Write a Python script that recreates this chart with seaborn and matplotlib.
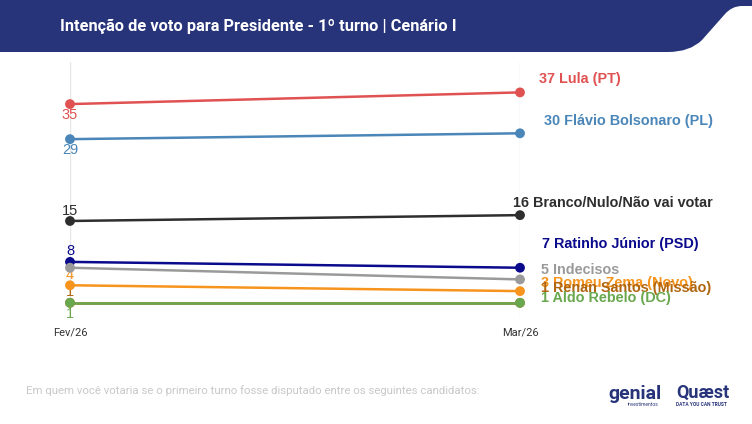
import pandas as pd
import matplotlib.pyplot as plt
import seaborn as sns
from matplotlib.patches import PathPatch
from matplotlib.path import Path

# data
periods = ['Fev/26', 'Mar/26']
candidates = ['Lula (PT)', 'Flávio Bolsonaro (PL)', 'Branco/Nulo/Não vai votar',
              'Ratinho Júnior (PSD)', 'Indecisos', 'Romeu Zema (Novo)',
              'Renan Santos (Missão)', 'Aldo Rebelo (DC)']
fev = [35, 29, 15, 8, 7, 4, 1, 1]
mar = [37, 30, 16, 7, 5, 3, 1, 1]
colors = ['#e05252', '#4a86b8', '#2e2e2e', '#0a0a8c', '#9a9a9a',
          '#f7941d', '#b0650f', '#6aa84f']

rows = []
for c, a, b in zip(candidates, fev, mar):
    rows.append({'cand': c, 'x': 0, 'v': a})
    rows.append({'cand': c, 'x': 1, 'v': b})
df = pd.DataFrame(rows)

sns.set_style('white')
plt.rcParams['font.family'] = ['Roboto', 'DejaVu Sans']

fig = plt.figure(figsize=(7.52, 4.24), dpi=100)
W, H = 752, 424

# header band with curved right edge (pixel coords, y down)
pts = [(0, 0), (752, 0), (752, 6), (742, 6), (732, 6), (725, 14),
       (702, 40), (690, 52), (668, 52), (0, 52), (0, 0)]
codes = [Path.MOVETO, Path.LINETO, Path.LINETO, Path.LINETO, Path.CURVE3, Path.CURVE3,
         Path.LINETO, Path.CURVE3, Path.CURVE3, Path.LINETO, Path.CLOSEPOLY]
verts = [(x / W, 1 - y / H) for x, y in pts]
fig.patches.append(PathPatch(Path(verts, codes), transform=fig.transFigure,
                             facecolor='#27347a', edgecolor='none'))
fig.text(60 / W, 1 - 26 / H, 'Intenção de voto para Presidente - 1º turno | Cenário I',
         color='white', fontsize=11.8, fontweight='bold', va='center', ha='left')

ax = fig.add_axes([70 / W, (H - 318) / H, 450 / W, 256 / H])
pal = dict(zip(candidates, colors))
sns.lineplot(data=df, x='x', y='v', hue='cand', palette=pal,
             linewidth=1.8, legend=False, ax=ax)
# points above all lines, Renan drawn last like the reference
pt_order = candidates[:6] + ['Aldo Rebelo (DC)', 'Renan Santos (Missão)']
sns.scatterplot(data=df, x='x', y='v', hue='cand', hue_order=pt_order, palette=pal,
                s=50, linewidth=0, legend=False, ax=ax, zorder=5, clip_on=False)
for ln in ax.lines:
    ln.set_clip_on(False)

ax.set_xlim(0, 1)
ax.set_ylim(-1.6, 42.2)
ax.set_xticks([0, 1])
ax.set_xticklabels(periods, fontsize=8, color='#333333')
ax.tick_params(axis='x', length=0, pad=7)
ax.set_yticks([])
ax.set_xlabel('')
ax.set_ylabel('')
for s in ax.spines.values():
    s.set_visible(False)
for xv in [0, 1]:
    ax.axvline(xv, color='#e6e6e6', linewidth=1, zorder=0)

# left value labels (offsets in points)
left_off = [-8, -8, 7.5, 7.5, None, 7.5, 7.5, -8]
for c, v, col, off in zip(candidates, fev, colors, left_off):
    if off is None:
        continue
    ax.annotate(str(v), (0, v), xytext=(0, off), textcoords='offset points',
                ha='center', va='center', color=col, fontsize=10.5,
                family=['Liberation Sans', 'DejaVu Sans'])

# right labels (x offset, y offset in points)
right_pos = [(14, 10), (17, 9), (-5, 9), (16, 17), (15, 7), (15, 6), (15, 10.5), (15, 3.5)]
for c, v, col, (dx, dy) in zip(candidates, mar, colors, right_pos):
    ax.annotate(f'{v} {c}', (1, v), xytext=(dx, dy), textcoords='offset points',
                ha='left', va='center', color=col, fontsize=10.4, fontweight='bold',
                family=['Liberation Sans', 'DejaVu Sans'])

# footer
fig.text(26 / W, 1 - 391 / H,
         'Em quem você votaria se o primeiro turno fosse disputado entre os seguintes candidatos:',
         color='#c8c8c8', fontsize=8.2, va='center', ha='left')
fig.text(608 / W, 1 - 394 / H, 'genial', color='#27347a', fontsize=14,
         fontweight='bold', va='center', ha='left')
fig.text(628 / W, 1 - 405 / H, 'investimentos', color='#27347a', fontsize=3.5,
         va='center', ha='left')
fig.text(676 / W, 1 - 393 / H, 'Quæst', color='#27347a', fontsize=13,
         fontweight='bold', va='center', ha='left')
fig.text(676 / W, 1 - 405 / H, 'DATA YOU CAN TRUST', color='#27347a', fontsize=3.5,
         fontweight='bold', va='center', ha='left')

fig.savefig('out.png', dpi=100)
